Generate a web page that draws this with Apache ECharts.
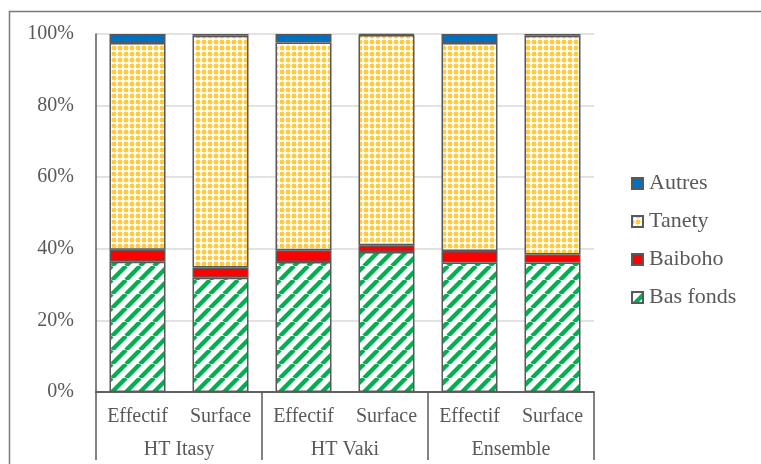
<!DOCTYPE html>
<html>
<head>
<meta charset="utf-8">
<script src="https://cdn.jsdelivr.net/npm/echarts@6/dist/echarts.min.js"></script>
<style>
  html, body { margin: 0; padding: 0; background: #fff; }
  #chart { width: 761px; height: 464px; }
</style>
</head>
<body>
<div id="chart"></div>
<script>
// Land-type shares (%) by zone and by measure
const measures = ['Effectif', 'Surface', 'Effectif', 'Surface', 'Effectif', 'Surface'];
const zones = ['HT Itasy', 'HT Vaki', 'Ensemble'];
const basFonds = [36.4, 31.9, 36.3, 39.1, 36.2, 36.2];
const baiboho  = [3.3, 2.9, 3.3, 1.9, 3.2, 2.2];
const tanety   = [57.8, 64.7, 58.0, 58.7, 58.1, 61.1];
const autres   = [2.5, 0.5, 2.4, 0.3, 2.5, 0.5];
const yTicks = [0, 20, 40, 60, 80, 100];

const FONT = '"Liberation Serif", "Times New Roman", serif';
const TEXT = '#595959';
const EDGE = '#595959';

// Green diagonal stripes on white
function stripePattern() {
  const s = 14;
  const c = document.createElement('canvas');
  c.width = s; c.height = s;
  const g = c.getContext('2d');
  g.fillStyle = '#fff';
  g.fillRect(0, 0, s, s);
  g.strokeStyle = '#00B050';
  g.lineWidth = 4.4;
  for (let k = -1; k <= 1; k++) {
    g.beginPath();
    g.moveTo(k * s, s);
    g.lineTo(k * s + s, 0);
    g.stroke();
  }
  return { image: c, repeat: 'repeat' };
}

// Yellow lattice with small white crosses
function latticePattern() {
  const s = 6;
  const c = document.createElement('canvas');
  c.width = s; c.height = s;
  const g = c.getContext('2d');
  g.fillStyle = '#FFCB45';
  g.fillRect(0, 0, s, s);
  g.fillStyle = '#FFEDB3';
  g.fillRect(2, 0, 2, 6);
  g.fillRect(0, 2, 6, 2);
  g.fillStyle = '#ffffff';
  g.fillRect(2, 1, 2, 4);
  g.fillRect(1, 2, 4, 2);
  return { image: c, repeat: 'repeat' };
}

function barSeries(name, data, color) {
  return {
    name: name,
    type: 'bar',
    stack: 'total',
    xAxisIndex: 0,
    barWidth: 56,
    data: data,
    itemStyle: { color: color, borderColor: EDGE, borderWidth: 1.5 },
    emphasis: { disabled: true }
  };
}

const chart = echarts.init(document.getElementById('chart'), null, { renderer: 'canvas' });

chart.setOption({
  animation: false,
  backgroundColor: '#fff',
  grid: { left: 96, right: 167, top: 34, bottom: 72, containLabel: false },
  graphic: [{
    type: 'rect',
    shape: { x: 9.5, y: 11.5, width: 800, height: 500 },
    style: { fill: 'none', stroke: '#7a7a7a', lineWidth: 1.5 },
    silent: true
  }],
  legend: {
    orient: 'vertical',
    left: 626,
    top: 167,
    icon: 'rect',
    itemWidth: 11,
    itemHeight: 11,
    itemGap: 15,
    data: ['Autres', 'Tanety', 'Baiboho', 'Bas fonds'],
    textStyle: { fontFamily: FONT, fontSize: 22, color: TEXT, lineHeight: 23, padding: [0, 0, 0, 1] }
  },
  xAxis: [
    {
      type: 'category',
      data: measures,
      position: 'bottom',
      axisLine: { show: true, lineStyle: { color: EDGE, width: 1.5 } },
      axisTick: { show: false },
      axisLabel: { margin: 15, fontFamily: FONT, fontSize: 20, color: TEXT, interval: 0 },
      splitLine: { show: false }
    },
    {
      type: 'category',
      data: zones,
      position: 'bottom',
      axisLine: { show: true, lineStyle: { color: EDGE, width: 1.5 } },
      axisTick: { show: true, length: 68, lineStyle: { color: EDGE, width: 1.5 } },
      axisLabel: { margin: 48, fontFamily: FONT, fontSize: 20, color: TEXT, interval: 0 },
      splitLine: { show: false }
    }
  ],
  yAxis: {
    type: 'value',
    min: yTicks[0],
    max: yTicks[yTicks.length - 1],
    interval: 20,
    axisLine: { show: true, lineStyle: { color: EDGE, width: 1.5 } },
    axisTick: { show: false },
    axisLabel: { margin: 22, fontFamily: FONT, fontSize: 20, color: TEXT, formatter: '{value}%' },
    splitLine: { show: true, lineStyle: { color: '#d9d9d9', width: 1.5 } }
  },
  series: [
    barSeries('Bas fonds', basFonds, stripePattern()),
    barSeries('Baiboho', baiboho, '#FF0000'),
    barSeries('Tanety', tanety, latticePattern()),
    barSeries('Autres', autres, '#0070C0')
  ]
});
</script>
</body>
</html>
